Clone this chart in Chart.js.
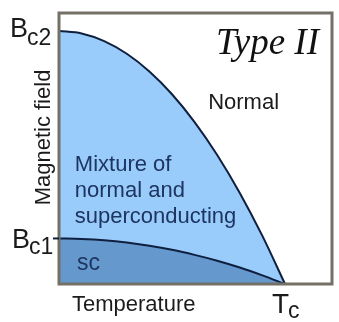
<!DOCTYPE html>
<html>
<head>
<meta charset="utf-8">
<script src="https://cdn.jsdelivr.net/npm/chart.js@4/dist/chart.umd.min.js"></script>
<style>
  html, body { margin: 0; padding: 0; background: #fff; }
  #wrap { width: 339px; height: 322px; }
</style>
</head>
<body>
<div id="wrap"><canvas id="phaseChart" width="339" height="322"></canvas></div>
<script>
// Temperature as a fraction of Tc, field as a fraction of Bc2
const temps = [0, 0.1, 0.2, 0.3, 0.4, 0.5, 0.6, 0.7, 0.8, 0.9, 1.0];
const upperField = [1.0, 0.99, 0.96, 0.91, 0.84, 0.75, 0.64, 0.51, 0.36, 0.19, 0];
const lowerField = [0.18, 0.178, 0.173, 0.164, 0.151, 0.135, 0.115, 0.092, 0.065, 0.034, 0];
const mixtureLines = ['Mixture of', 'normal and', 'superconducting'];

const LIGHT = '#99ccfa';
const DARK = '#6598cc';
const CURVE = '#0f1f3f';
const FRAME = '#747066';
const SANS = '"Liberation Sans", Arial, sans-serif';

function toPoints(ys) {
  return temps.map((t, i) => ({ x: t, y: ys[i] }));
}

// draw B/T with a subscript at a pixel position
function subLabel(ctx, main, sub, x, y, mainSize, subSize, drop) {
  ctx.font = `${mainSize}px ${SANS}`;
  ctx.fillText(main, x, y);
  const w = ctx.measureText(main).width;
  ctx.font = `${subSize}px ${SANS}`;
  ctx.fillText(sub, x + w - 1, y + drop);
}

const labelsPlugin = {
  id: 'phaseLabels',
  afterDraw(chart) {
    const { ctx, chartArea: a, scales: { x, y } } = chart;
    ctx.save();

    // frame
    ctx.strokeStyle = FRAME;
    ctx.lineWidth = 3;
    ctx.strokeRect(a.left, a.top, a.right - a.left, a.bottom - a.top);

    ctx.textAlign = 'left';
    ctx.textBaseline = 'alphabetic';
    ctx.fillStyle = '#1b1b1b';

    // axis labels
    const yTop = y.getPixelForValue(upperField[0]);
    const yLow = y.getPixelForValue(lowerField[0]);
    const xTc = x.getPixelForValue(temps[temps.length - 1]);
    subLabel(ctx, 'B', 'c2', 10, yTop + 6, 27, 23, 8);
    subLabel(ctx, 'B', 'c1', 12, yLow + 10, 27, 23, 6);
    subLabel(ctx, 'T', 'c', xTc - 13, a.bottom + 29, 28, 23, 5);

    ctx.strokeStyle = CURVE;
    ctx.lineWidth = 2;
    ctx.beginPath();
    ctx.moveTo(a.left - 6, yLow);
    ctx.lineTo(a.left, yLow);
    ctx.stroke();

    ctx.font = `22px ${SANS}`;
    ctx.fillText('Temperature', a.left + 13, a.bottom + 27);

    ctx.save();
    ctx.translate(50, (a.top + a.bottom) / 2 - 11);
    ctx.rotate(-Math.PI / 2);
    ctx.textAlign = 'center';
    ctx.font = `22px ${SANS}`;
    ctx.fillText('Magnetic field', 0, 0);
    ctx.restore();

    // region names
    ctx.fillText('Normal', x.getPixelForValue(0.66), y.getPixelForValue(0.69));

    ctx.fillStyle = '#1d3560';
    mixtureLines.forEach((line, i) => {
      ctx.fillText(line, x.getPixelForValue(0.07), y.getPixelForValue(0.445 - i * 0.102));
    });
    ctx.font = `23px ${SANS}`;
    ctx.fillText('sc', x.getPixelForValue(0.08), y.getPixelForValue(0.055));

    ctx.fillStyle = '#111';
    ctx.textAlign = 'right';
    ctx.font = `italic 37px "Liberation Serif", "Times New Roman", serif`;
    ctx.fillText('Type II', a.right - 13, a.top + 41);

    ctx.restore();
  }
};

new Chart(document.getElementById('phaseChart'), {
  type: 'line',
  data: {
    datasets: [
      {
        label: 'Bc1',
        data: toPoints(lowerField),
        borderColor: CURVE,
        borderWidth: 2,
        backgroundColor: DARK,
        fill: 'origin',
        pointRadius: 0,
        cubicInterpolationMode: 'monotone'
      },
      {
        label: 'Bc2',
        data: toPoints(upperField),
        borderColor: CURVE,
        borderWidth: 2,
        backgroundColor: LIGHT,
        fill: 'origin',
        pointRadius: 0,
        cubicInterpolationMode: 'monotone'
      }
    ]
  },
  options: {
    responsive: false,
    animation: false,
    devicePixelRatio: 1,
    layout: { padding: { left: 59, top: 13, right: 7, bottom: 38 } },
    plugins: { legend: { display: false }, tooltip: { enabled: false } },
    scales: {
      x: { type: 'linear', min: 0, max: 1.208, display: false },
      y: { type: 'linear', min: 0, max: 1.071, display: false }
    }
  },
  plugins: [labelsPlugin]
});
</script>
</body>
</html>
